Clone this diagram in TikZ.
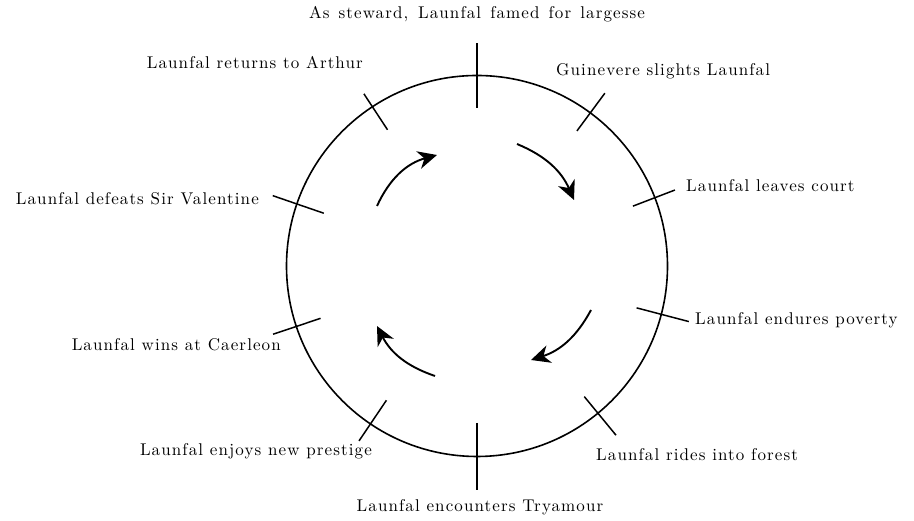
\documentclass[tikz,border=0pt]{standalone}
\usepackage{fontspec}
\setmainfont{lmroman10-regular.otf}[LetterSpace=6.5]
\usetikzlibrary{arrows.meta,calc}
\begin{document}
\begin{tikzpicture}[x=1pt,y=1pt,
  rim/.style={line width=1.6pt},
  tick/.style={line width=1.5pt},
  cyclearrow/.style={line width=1.9pt,-{Stealth[length=19pt,width=18pt,inset=6pt]}},
  lbl/.style={inner sep=0pt,font=\fontsize{17}{20}\selectfont}]
\useasboundingbox (0,0) rectangle (914,521);

% the cycle
\coordinate (c) at (477,255);
\draw[rim] (c) circle[radius=190.5];

% stage markers: angle / inner radius / outer radius
\foreach \a/\ri/\ro in {90/158/223, 53.5/168/215, 21/167/212, -14.7/165/219,
                        -50.6/169/219, -90/157/224, -124/162/211, 198.5/165/215,
                        161/162/216, 123.3/163/206}
  \draw[tick] ($(c)+(\a:\ri)$) -- ($(c)+(\a:\ro)$);

% stage labels
\node[lbl,anchor=base]      (s1)  at (477,502) {\makebox[336pt][s]{As steward, Launfal famed for largesse}};
\node[lbl,anchor=base west] (s2)  at (556,445) {Guinevere slights Launfal};
\node[lbl,anchor=base west] (s3)  at (686,329) {Launfal leaves court};
\node[lbl,anchor=base west] (s4)  at (695,196) {Launfal endures poverty};
\node[lbl,anchor=base west] (s5)  at (596,60)  {Launfal rides into forest};
\node[lbl,anchor=base]      (s6)  at (480,9)   {Launfal encounters Tryamour};
\node[lbl,anchor=base east] (s7)  at (372,65)  {Launfal enjoys new prestige};
\node[lbl,anchor=base east] (s8)  at (281,170) {Launfal wins at Caerleon};
\node[lbl,anchor=base east] (s9)  at (259,316) {Launfal defeats Sir Valentine};
\node[lbl,anchor=base east] (s10) at (363,452) {Launfal returns to Arthur};

% direction of the cycle
\coordinate (a1s) at (377,315); \coordinate (a1e) at (437,366);
\coordinate (a2s) at (517,377); \coordinate (a2e) at (574,321);
\coordinate (a3s) at (591,211); \coordinate (a3e) at (531,161);
\coordinate (a4s) at (435,145); \coordinate (a4e) at (377,195);
\draw[cyclearrow] (a1s) to[bend left=25] (a1e);
\draw[cyclearrow] (a2s) to[bend left=22] (a2e);
\draw[cyclearrow] (a3s) to[bend left=22] (a3e);
\draw[cyclearrow] (a4s) to[bend left=22] (a4e);
\end{tikzpicture}
\end{document}
